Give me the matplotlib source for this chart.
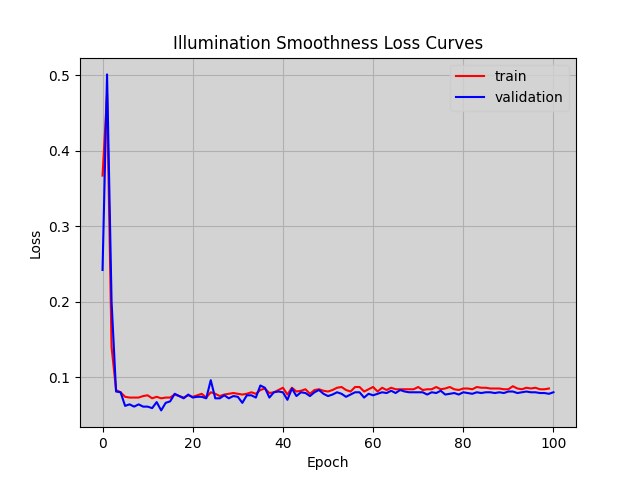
import matplotlib
matplotlib.use("Agg")
import matplotlib.pyplot as plt

train_loss = [
    0.367, 0.475, 0.140, 0.083, 0.080, 0.074, 0.073, 0.073, 0.073, 0.075,
    0.076, 0.072, 0.074, 0.072, 0.073, 0.073, 0.077, 0.075, 0.073, 0.076,
    0.074, 0.076, 0.078, 0.073, 0.080, 0.078, 0.075, 0.077, 0.078, 0.079,
    0.078, 0.077, 0.078, 0.080, 0.078, 0.083, 0.085, 0.079, 0.080, 0.083,
    0.086, 0.077, 0.086, 0.081, 0.082, 0.084, 0.078, 0.083, 0.084, 0.082,
    0.081, 0.083, 0.086, 0.087, 0.083, 0.081, 0.087, 0.087, 0.081, 0.084,
    0.087, 0.081, 0.086, 0.083, 0.086, 0.084, 0.084, 0.084, 0.084, 0.084,
    0.087, 0.083, 0.084, 0.084, 0.087, 0.084, 0.085, 0.087, 0.084, 0.083,
    0.085, 0.085, 0.084, 0.087, 0.086, 0.086, 0.085, 0.085, 0.085, 0.084,
    0.084, 0.088, 0.085, 0.084, 0.086, 0.085, 0.086, 0.084, 0.084, 0.085,
]

val_loss = [
    0.242, 0.501, 0.200, 0.081, 0.080, 0.062, 0.064, 0.061, 0.064, 0.061,
    0.061, 0.059, 0.067, 0.056, 0.066, 0.068, 0.078, 0.075, 0.072, 0.077,
    0.073, 0.074, 0.074, 0.072, 0.096, 0.072, 0.072, 0.076, 0.072, 0.075,
    0.074, 0.066, 0.076, 0.076, 0.073, 0.089, 0.086, 0.073, 0.080, 0.081,
    0.080, 0.070, 0.085, 0.075, 0.080, 0.079, 0.075, 0.080, 0.083, 0.078,
    0.075, 0.077, 0.080, 0.078, 0.074, 0.077, 0.080, 0.080, 0.073, 0.078,
    0.076, 0.078, 0.080, 0.079, 0.082, 0.079, 0.083, 0.081, 0.080, 0.080,
    0.080, 0.080, 0.077, 0.080, 0.079, 0.082, 0.077, 0.078, 0.079, 0.077,
    0.080, 0.079, 0.078, 0.080, 0.079, 0.080, 0.080, 0.079, 0.080, 0.079,
    0.081, 0.081, 0.079, 0.080, 0.081, 0.080, 0.080, 0.079, 0.079, 0.078,
    0.080,
]

train_epochs = list(range(len(train_loss)))
val_epochs = list(range(len(val_loss)))

fig, ax = plt.subplots(figsize=(6.4, 4.8), dpi=100)
ax.set_facecolor("lightgray")
ax.plot(train_epochs, train_loss, color="red", label="train")
ax.plot(val_epochs, val_loss, color="blue", label="validation")
ax.set_title("Illumination Smoothness Loss Curves")
ax.set_xlabel("Epoch")
ax.set_ylabel("Loss")
ax.grid(True)
ax.legend(loc="upper right", facecolor="lightgray")
fig.savefig("out.png", dpi=100)
